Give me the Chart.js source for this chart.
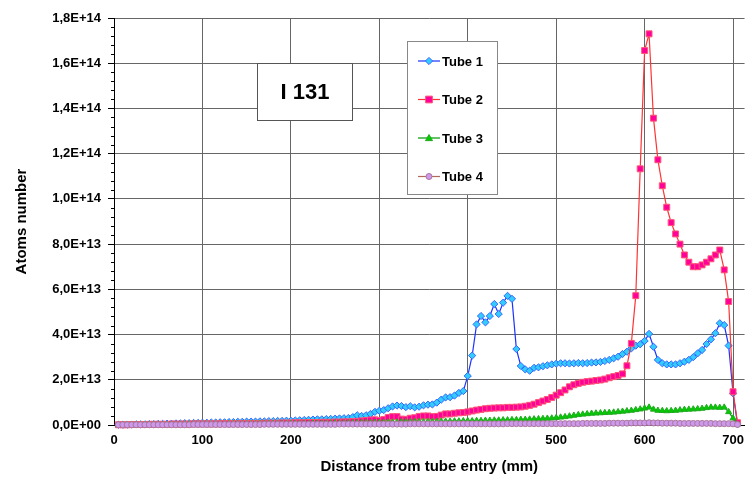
<!DOCTYPE html>
<html>
<head>
<meta charset="utf-8">
<script src="https://cdn.jsdelivr.net/npm/chart.js"></script>
<style>
  body { margin: 0; background: #fff; }
  #wrap { width: 752px; height: 480px; }
</style>
</head>
<body>
<div id="wrap"><canvas id="atomsChart" width="752" height="480"></canvas></div>
<script>
// Distance from tube entry (mm)
var distances = [
  5,10,15,20,25,30,35,40,45,50,55,60,65,70,75,80,85,90,95,100,
  105,110,115,120,125,130,135,140,145,150,155,160,165,170,175,180,185,190,195,200,
  205,210,215,220,225,230,235,240,245,250,255,260,265,270,275,280,285,290,295,300,
  305,310,315,320,325,330,335,340,345,350,355,360,365,370,375,380,385,390,395,400,
  405,410,415,420,425,430,435,440,445,450,455,460,465,470,475,480,485,490,495,500,
  505,510,515,520,525,530,535,540,545,550,555,560,565,570,575,580,585,590,595,600,
  605,610,615,620,625,630,635,640,645,650,655,660,665,670,675,680,685,690,695,700,
  705
];

// Atoms number, in units of 1E+12
var tube1 = [
  0.1,0.1,0.2,0.2,0.3,0.3,0.3,0.4,0.4,0.5,0.5,0.6,0.6,0.7,0.7,0.8,0.8,0.9,0.9,1.0,
  1.0,1.1,1.1,1.2,1.2,1.3,1.3,1.4,1.4,1.5,1.5,1.5,1.6,1.6,1.7,1.7,1.8,1.8,1.9,1.9,
  2.0,2.1,2.2,2.3,2.4,2.5,2.5,2.6,2.7,2.8,2.9,3.0,3.1,3.5,4.3,4.0,4.3,4.9,5.8,6.3,
  6.6,7.4,8.2,8.6,8.4,7.9,8.3,7.8,8.1,8.7,9.0,9.1,9.9,11.2,12.2,12.3,13.0,14.2,15.0,21.7,
  30.7,44.5,48.2,45.4,48.2,53.5,49.1,54.1,57.1,55.8,33.6,26.1,24.6,24.0,25.3,25.5,26.0,26.4,26.8,27.1,
  27.3,27.3,27.2,27.3,27.4,27.3,27.4,27.6,27.7,27.9,28.3,28.8,29.5,30.2,31.4,32.4,33.9,35.1,35.7,37.2,
  40.3,34.6,28.8,27.3,26.8,26.8,26.8,27.3,28.0,28.8,30.0,31.7,33.2,35.8,37.9,40.6,45.0,44.2,35.1,14.0,
  0.5
];
var tube2 = [
  0.1,0.1,0.1,0.2,0.2,0.2,0.2,0.3,0.3,0.3,0.3,0.3,0.4,0.4,0.4,0.4,0.4,0.5,0.5,0.5,
  0.5,0.5,0.5,0.6,0.6,0.6,0.6,0.6,0.7,0.7,0.7,0.7,0.7,0.8,0.8,0.8,0.8,0.9,0.9,0.9,
  1.0,1.0,1.0,1.1,1.1,1.1,1.2,1.2,1.2,1.3,1.3,1.4,1.4,1.5,1.6,1.8,2.0,2.2,2.3,2.0,
  2.4,3.3,3.7,3.7,2.6,2.5,3.0,3.2,3.8,4.0,4.0,3.7,3.8,4.4,4.9,4.9,5.2,5.4,5.5,5.8,
  6.2,6.6,6.9,7.2,7.4,7.5,7.6,7.6,7.8,7.8,7.9,8.0,8.3,8.7,9.2,9.9,10.6,11.3,12.2,13.2,
  14.3,15.5,16.9,17.8,18.4,18.9,19.2,19.4,19.7,19.9,20.3,20.9,21.4,21.9,22.6,26.2,36.1,57.2,113.3,165.6,
  173.0,135.7,117.3,105.8,96.3,89.5,84.5,80.0,75.2,72.0,70.0,70.0,70.8,72.0,73.5,75.2,77.4,68.6,54.6,14.7,
  1.0
];
var tube3 = [
  0.1,0.1,0.1,0.1,0.1,0.1,0.2,0.2,0.2,0.2,0.2,0.2,0.2,0.2,0.2,0.3,0.3,0.3,0.3,0.3,
  0.3,0.3,0.3,0.3,0.3,0.4,0.4,0.4,0.4,0.4,0.4,0.4,0.5,0.5,0.5,0.5,0.5,0.5,0.5,0.6,
  0.6,0.6,0.6,0.6,0.7,0.7,0.7,0.7,0.8,0.8,0.8,0.8,0.9,0.9,0.9,1.0,1.0,1.0,1.1,1.1,
  1.1,1.2,1.2,1.2,1.3,1.3,1.3,1.4,1.4,1.4,1.5,1.5,1.5,1.6,1.6,1.6,1.7,1.7,1.8,1.8,
  1.8,1.9,1.9,2.0,2.0,2.1,2.1,2.2,2.2,2.3,2.3,2.4,2.4,2.5,2.6,2.7,2.8,2.9,3.0,3.2,
  3.4,3.6,3.9,4.2,4.5,4.7,4.9,5.1,5.2,5.3,5.4,5.5,5.6,5.8,6.0,6.2,6.4,6.7,7.0,7.4,
  7.8,6.9,6.4,6.3,6.2,6.3,6.4,6.6,6.8,6.9,7.0,7.1,7.3,7.6,7.8,7.8,7.7,7.8,5.8,3.0,
  0.3
];
var tube4 = [
  0.1,0.1,0.1,0.1,0.1,0.1,0.1,0.1,0.1,0.1,0.1,0.1,0.1,0.1,0.1,0.1,0.1,0.2,0.2,0.2,
  0.2,0.2,0.2,0.2,0.2,0.2,0.2,0.2,0.2,0.2,0.2,0.2,0.2,0.3,0.3,0.3,0.3,0.3,0.3,0.3,
  0.3,0.3,0.3,0.3,0.3,0.3,0.3,0.3,0.3,0.3,0.4,0.4,0.4,0.4,0.4,0.4,0.4,0.4,0.4,0.4,
  0.4,0.4,0.4,0.4,0.4,0.4,0.5,0.5,0.5,0.5,0.5,0.5,0.5,0.5,0.5,0.5,0.5,0.5,0.5,0.5,
  0.5,0.5,0.5,0.5,0.5,0.5,0.5,0.5,0.6,0.6,0.6,0.6,0.6,0.6,0.6,0.6,0.6,0.6,0.6,0.6,
  0.6,0.6,0.6,0.6,0.6,0.7,0.7,0.7,0.7,0.7,0.7,0.8,0.8,0.8,0.8,0.8,0.9,0.9,0.9,0.9,
  1.0,0.9,0.9,0.8,0.8,0.8,0.8,0.7,0.7,0.7,0.7,0.7,0.7,0.7,0.7,0.6,0.6,0.6,0.6,0.5,
  0.2
];

var seriesNames = ['Tube 1', 'Tube 2', 'Tube 3', 'Tube 4'];
var isotopeLabel = 'I 131';

function toPoints(values) {
    return distances.map(function (d, i) { return { x: d, y: values[i] }; });
}

// Excel style "1,8E+14"
function sciLabel(v) {
    var s = (v * 1e12).toExponential(1);
    var parts = s.split('e');
    var exp = parseInt(parts[1], 10);
    var expStr = (exp < 0 ? '-' : '+') + (Math.abs(exp) < 10 ? '0' : '') + Math.abs(exp);
    return parts[0].replace('.', ',') + 'E' + expStr;
}

function drawMarker(ctx, style, x, y, r, fill, stroke) {
    ctx.save();
    ctx.fillStyle = fill;
    ctx.strokeStyle = stroke;
    ctx.lineWidth = 1;
    ctx.beginPath();
    if (style === 'rectRot') {
        ctx.moveTo(x, y - r); ctx.lineTo(x + r, y); ctx.lineTo(x, y + r); ctx.lineTo(x - r, y);
        ctx.closePath();
    } else if (style === 'rect') {
        ctx.rect(x - r * 0.8, y - r * 0.8, 1.6 * r, 1.6 * r);
    } else if (style === 'triangle') {
        ctx.moveTo(x, y - r); ctx.lineTo(x + r, y + r * 0.75); ctx.lineTo(x - r, y + r * 0.75);
        ctx.closePath();
    } else {
        ctx.arc(x, y, r, 0, Math.PI * 2);
    }
    ctx.fill();
    ctx.stroke();
    ctx.restore();
}

// minor ticks on the y axis, the legend box and the isotope label box
var decorPlugin = {
    id: 'decor',
    afterDraw: function (chart) {
        var ctx = chart.ctx;
        var y = chart.scales.y;
        var area = chart.chartArea;

        ctx.save();
        ctx.strokeStyle = '#000';
        ctx.lineWidth = 1;
        for (var v = 4; v < 180; v += 4) {
            if (v % 20 === 0) continue;
            var py = Math.round(y.getPixelForValue(v)) + 0.5;
            ctx.beginPath();
            ctx.moveTo(area.left - 3, py);
            ctx.lineTo(area.left, py);
            ctx.stroke();
        }
        ctx.restore();

        // isotope box
        ctx.save();
        ctx.fillStyle = '#fff';
        ctx.strokeStyle = '#555';
        ctx.lineWidth = 1;
        ctx.fillRect(257.5, 63.5, 95, 57);
        ctx.strokeRect(257.5, 63.5, 95, 57);
        ctx.fillStyle = '#000';
        ctx.font = 'bold 22px "Liberation Sans", Arial, sans-serif';
        ctx.textAlign = 'center';
        ctx.textBaseline = 'middle';
        ctx.fillText(isotopeLabel, 305, 93);
        ctx.restore();

        // legend box
        ctx.save();
        ctx.fillStyle = '#fff';
        ctx.strokeStyle = '#888';
        ctx.lineWidth = 1;
        ctx.fillRect(407.5, 41.5, 90, 153);
        ctx.strokeRect(407.5, 41.5, 90, 153);
        ctx.font = 'bold 13px "Liberation Sans", Arial, sans-serif';
        ctx.textAlign = 'left';
        ctx.textBaseline = 'middle';
        chart.data.datasets.forEach(function (ds, i) {
            var ly = 61 + i * 38.5;
            ctx.strokeStyle = ds.borderColor;
            ctx.lineWidth = ds.borderWidth;
            ctx.beginPath();
            ctx.moveTo(418, ly);
            ctx.lineTo(440, ly);
            ctx.stroke();
            drawMarker(ctx, ds.pointStyle, 429, ly, ds.pointRadius, ds.pointBackgroundColor, ds.pointBorderColor);
            ctx.fillStyle = '#000';
            ctx.fillText(ds.label, 442, ly + 1);
        });
        ctx.restore();
    }
};

var ctx = document.getElementById('atomsChart').getContext('2d');

var atomsChart = new Chart(ctx, {
    type: 'line',
    data: {
        datasets: [{
            label: seriesNames[0],
            data: toPoints(tube1),
            borderColor: '#1a33ff',
            borderWidth: 1.2,
            pointStyle: 'rectRot',
            pointRadius: 3.6,
            pointBackgroundColor: '#33ccff',
            pointBorderColor: '#3366ff',
            pointBorderWidth: 1,
            order: 4
        }, {
            label: seriesNames[1],
            data: toPoints(tube2),
            borderColor: '#ff3333',
            borderWidth: 1.2,
            pointStyle: 'rect',
            pointRadius: 4.2,
            pointBackgroundColor: '#ff0099',
            pointBorderColor: '#ff5577',
            pointBorderWidth: 1,
            order: 3
        }, {
            label: seriesNames[2],
            data: toPoints(tube3),
            borderColor: '#009900',
            borderWidth: 1.2,
            pointStyle: 'triangle',
            pointRadius: 3.5,
            pointBackgroundColor: '#00cc00',
            pointBorderColor: '#22aa22',
            pointBorderWidth: 1,
            order: 2
        }, {
            label: seriesNames[3],
            data: toPoints(tube4),
            borderColor: '#b06a5a',
            borderWidth: 1.2,
            pointStyle: 'circle',
            pointRadius: 3,
            pointBackgroundColor: '#cc99ee',
            pointBorderColor: '#aa7799',
            pointBorderWidth: 1,
            order: 1
        }]
    },
    options: {
        responsive: false,
        animation: false,
        layout: { padding: { top: 18, right: 0, left: 0, bottom: 0 } },
        elements: { line: { tension: 0 } },
        datasets: { line: { clip: false } },
        scales: {
            x: {
                type: 'linear',
                min: 0,
                max: 713,
                afterFit: function (scale) { scale.height = 55; },
                ticks: {
                    stepSize: 100,
                    includeBounds: false,
                    color: '#000',
                    padding: 8,
                    maxRotation: 0,
                    font: { family: '"Liberation Sans", Arial, sans-serif', size: 13, weight: 'bold' }
                },
                grid: { color: '#666', drawTicks: false },
                border: { color: '#000' },
                title: {
                    display: true,
                    text: 'Distance from tube entry (mm)',
                    color: '#000',
                    padding: { top: 4, bottom: 4 },
                    font: { family: '"Liberation Sans", Arial, sans-serif', size: 15, weight: 'bold' }
                }
            },
            y: {
                min: 0,
                max: 180,
                afterFit: function (scale) { scale.width = 114; },
                ticks: {
                    stepSize: 20,
                    color: '#000',
                    padding: 7,
                    callback: function (value) { return sciLabel(value); },
                    font: { family: '"Liberation Sans", Arial, sans-serif', size: 13, weight: 'bold' }
                },
                grid: { color: '#666', tickLength: 6, tickColor: '#000' },
                border: { color: '#000' },
                title: {
                    display: true,
                    text: 'Atoms number',
                    color: '#000',
                    padding: { top: 13, bottom: 0 },
                    font: { family: '"Liberation Sans", Arial, sans-serif', size: 15, weight: 'bold' }
                }
            }
        },
        plugins: {
            legend: { display: false },
            title: { display: false },
            tooltip: { enabled: false }
        }
    },
    plugins: [decorPlugin]
});
</script>
</body>
</html>
